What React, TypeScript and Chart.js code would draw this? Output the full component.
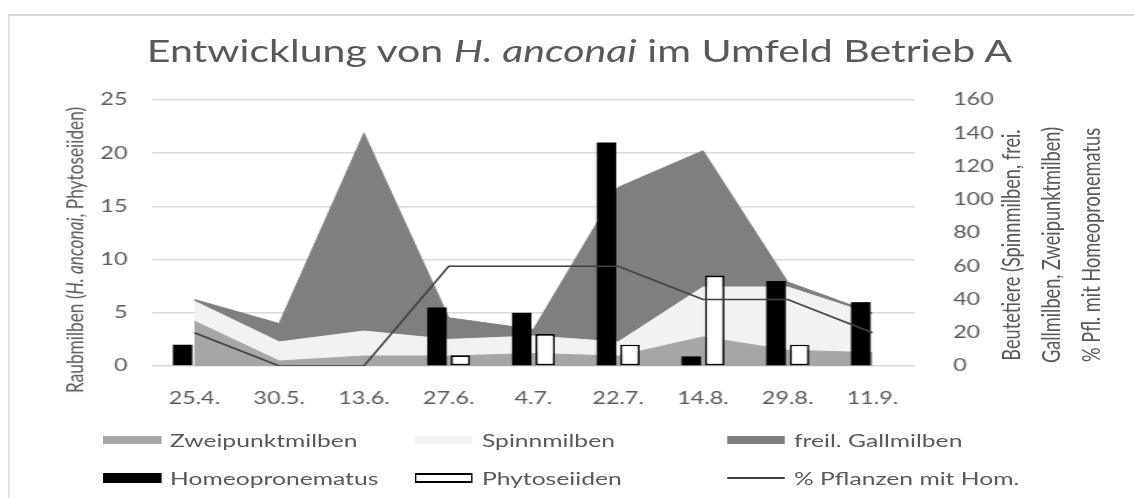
import React, { useEffect, useRef } from 'react';
import { Chart, registerables } from 'chart.js';

Chart.register(...registerables);

// Categories (sampling dates)
const dates = ['25.4.', '30.5.', '13.6.', '27.6.', '4.7.', '22.7.', '14.8.', '29.8.', '11.9.'];

// Prey mites (right axis, stacked areas)
const zweipunktmilben = [27, 3, 6, 6, 7.5, 6, 17.5, 9.5, 8];
const spinnmilben = [12, 11.5, 15, 10, 10.5, 8.5, 30, 38, 23];
const gallmilben = [1, 11, 119, 13, 4, 93, 82, 3, 1];

// Predatory mites (left axis, bars)
const homeopronematus = [2, null, null, 5.5, 5, 21, 0.9, 8, 6];
const phytoseiiden = [null, null, null, 1, 3, 2, 8.5, 2, null];

// % plants with Homeopronematus (right axis scale)
const pflanzenMitHom = [20, 0, 0, 60, 60, 60, 40, 40, 20];

// Axis ranges / steps
const leftMax = 25;
const leftStep = 5;
const rightMax = 160;
const rightStep = 20;

const FONT = "Lato, 'Open Sans', sans-serif";
const TEXT = '#595959';

// The reference picture is horizontally stretched; draw at a narrower width and stretch.
const W = 828;
const H = 498;
const SX = 1134 / W;
const px = (x: number) => x / SX;

const legendItems = [
  { label: 'Zweipunktmilben', kind: 'area', color: '#a6a6a6', col: 0, row: 0 },
  { label: 'Spinnmilben', kind: 'area', color: '#f2f2f2', col: 1, row: 0 },
  { label: 'freil. Gallmilben', kind: 'area', color: '#7f7f7f', col: 2, row: 0 },
  { label: 'Homeopronematus', kind: 'bar', color: '#000000', col: 0, row: 1 },
  { label: 'Phytoseiiden', kind: 'hollow', color: '#ffffff', col: 1, row: 1 },
  { label: '% Pflanzen mit Hom.', kind: 'line', color: '#404040', col: 2, row: 1 },
];

export default function App() {
  const ref = useRef<HTMLCanvasElement>(null);

  useEffect(() => {
    const tickFont = { family: FONT, size: 17 };
    const chart = new Chart(ref.current as HTMLCanvasElement, {
      type: 'bar',
      data: {
        labels: dates,
        datasets: [
          {
            type: 'line', label: 'Zweipunktmilben', data: zweipunktmilben, yAxisID: 'y1',
            backgroundColor: '#a6a6a6', borderColor: '#a6a6a6', borderWidth: 1,
            pointRadius: 0, fill: 'origin', tension: 0, order: 2,
          },
          {
            type: 'line', label: 'Spinnmilben', data: spinnmilben, yAxisID: 'y1',
            backgroundColor: '#f2f2f2', borderColor: '#f2f2f2', borderWidth: 1,
            pointRadius: 0, fill: '-1', tension: 0, order: 2,
          },
          {
            type: 'line', label: 'freil. Gallmilben', data: gallmilben, yAxisID: 'y1',
            backgroundColor: '#7f7f7f', borderColor: '#7f7f7f', borderWidth: 1,
            pointRadius: 0, fill: '-1', tension: 0, order: 2,
          },
          {
            type: 'bar', label: 'Homeopronematus', data: homeopronematus, yAxisID: 'y',
            backgroundColor: '#000000', borderWidth: 0, order: 1,
            categoryPercentage: 0.554, barPercentage: 0.83,
          },
          {
            type: 'bar', label: 'Phytoseiiden', data: phytoseiiden, yAxisID: 'y',
            backgroundColor: '#ffffff', borderColor: '#000000', borderWidth: 1.6,
            borderSkipped: false, order: 1,
            categoryPercentage: 0.554, barPercentage: 0.83,
          },
          {
            type: 'line', label: '% Pflanzen mit Hom.', data: pflanzenMitHom, yAxisID: 'y2',
            borderColor: '#404040', borderWidth: 1.5, pointRadius: 0, fill: false,
            tension: 0, order: 0,
          },
        ] as any,
      },
      options: {
        animation: false,
        responsive: true,
        maintainAspectRatio: false,
        layout: { padding: { left: 66, right: 70, top: 100, bottom: 92 } },
        plugins: {
          legend: { display: false },
          title: { display: false },
          tooltip: { enabled: false },
        },
        scales: {
          x: {
            grid: { display: false },
            border: { display: false },
            ticks: { color: TEXT, font: tickFont, padding: 14, maxRotation: 0 },
            afterFit: (s: any) => { s.height = 40; },
          },
          y: {
            position: 'left',
            min: 0,
            max: leftMax,
            ticks: { stepSize: leftStep, color: TEXT, font: tickFont, padding: 18 },
            grid: { color: '#d9d9d9', lineWidth: 1.5, drawTicks: false },
            border: { display: false },
            afterFit: (s: any) => { s.width = 45; },
          },
          y1: {
            position: 'right',
            stacked: true,
            min: 0,
            max: rightMax,
            ticks: { stepSize: rightStep, color: TEXT, font: tickFont, padding: 20 },
            grid: { display: false },
            border: { display: false },
            afterFit: (s: any) => { s.width = 90; },
          },
          y2: { display: false, min: 0, max: rightMax },
        },
      } as any,
    });
    return () => chart.destroy();
  }, []);

  const swX = [103, 415, 727];
  const txtX = [170, 482, 794];
  const rowY = [440, 478];
  const rightTitles = ['Beutetiere (Spinnmilben, frei.', 'Gallmilben, Zweipunktmilben)', '% Pfl. mit Homeopronematus'];
  const rightTitleX = [1011, 1050, 1090];

  return (
    <div style={{ position: 'absolute', left: 0, top: 0, width: 1134, height: 498, overflow: 'hidden', background: '#fff' }}>
      <div style={{ position: 'absolute', left: 0, top: 0, width: W, height: H, transform: `scaleX(${SX})`, transformOrigin: '0 0', fontFamily: FONT, color: TEXT }}>
        <div style={{ position: 'absolute', left: px(8), top: 14, width: W, height: H, borderTop: '2px solid #d9d9d9', borderLeft: '1.5px solid #d9d9d9', boxSizing: 'border-box' }} />
        <div style={{ position: 'absolute', left: 0, top: 0, width: W, height: H }}>
          <canvas ref={ref} />
        </div>
        <div style={{ position: 'absolute', left: px(579.5) - 400, width: 800, top: 31, fontSize: 30, lineHeight: '38px', textAlign: 'center', whiteSpace: 'nowrap' }}>
          Entwicklung von <i>H. anconai</i> im Umfeld Betrieb A
        </div>
        <div style={{ position: 'absolute', left: px(75), top: 250, fontSize: 17.3, lineHeight: '20px', whiteSpace: 'nowrap', transform: 'translate(-50%, -50%) rotate(-90deg)' }}>
          Raubmilben (<i>H. anconai</i>, Phytoseiiden)
        </div>
        {rightTitles.map((t, i) => (
          <div key={t} style={{ position: 'absolute', left: px(rightTitleX[i]), top: 245, fontSize: 18.2, lineHeight: '22px', whiteSpace: 'nowrap', transform: 'translate(-50%, -50%) rotate(-90deg)' }}>
            {t}
          </div>
        ))}
        {legendItems.map((it) => {
          const x = px(swX[it.col]);
          const w = px(58);
          const cy = rowY[it.row];
          let sw: React.CSSProperties;
          if (it.kind === 'area') sw = { left: x, top: cy - 4, width: w, height: 8, background: it.color };
          else if (it.kind === 'bar') sw = { left: x, top: cy - 5, width: w, height: 10, background: it.color };
          else if (it.kind === 'hollow') sw = { left: x, top: cy - 5, width: w, height: 10, background: '#fff', border: '2px solid #000', borderLeftWidth: 1.5, borderRightWidth: 1.5, boxSizing: 'border-box' };
          else sw = { left: x, top: cy - 1, width: w, height: 2, background: it.color };
          return (
            <React.Fragment key={it.label}>
              <div style={{ position: 'absolute', ...sw }} />
              <div style={{ position: 'absolute', left: px(txtX[it.col]), top: cy - 12, fontSize: 18, lineHeight: '24px', whiteSpace: 'nowrap' }}>{it.label}</div>
            </React.Fragment>
          );
        })}
      </div>
    </div>
  );
}
